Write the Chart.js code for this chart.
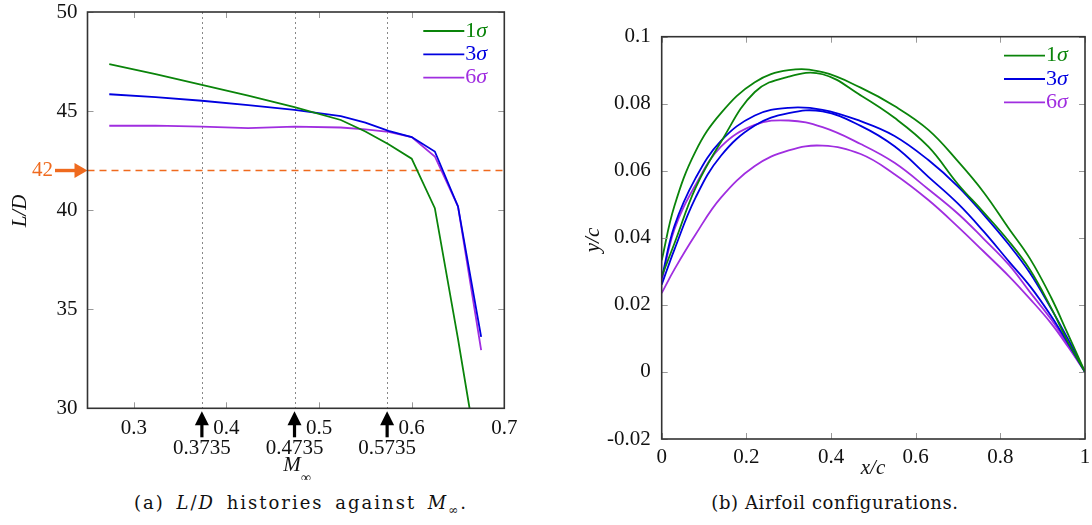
<!DOCTYPE html>
<html>
<head>
<meta charset="utf-8">
<script src="https://cdn.jsdelivr.net/npm/chart.js@4.4.1/dist/chart.umd.min.js"></script>
<style>
  body { margin: 0; width: 1092px; height: 525px; background: #fff; position: relative; overflow: hidden; font-family: 'Liberation Serif', serif; color: #111; }
  canvas { position: absolute; top: 0; }
  #ldChart { left: 0; }
  #foilChart { left: 550px; }
  .cap { position: absolute; top: 492px; font-family: 'DejaVu Serif', serif; font-size: 18px; letter-spacing: 0.6px; text-align: center; width: 480px; }
  .cap sub { font-size: 12px; }
  #capA { left: 61px; letter-spacing: 2px; word-spacing: 4px; }
  #capB { left: 595px; }
</style>
</head>
<body>
<canvas id="ldChart" width="540" height="480"></canvas>
<canvas id="foilChart" width="542" height="480"></canvas>
<div class="cap" id="capA">(a) <i>L</i>/<i>D</i> histories against <i>M</i><sub>∞</sub>.</div>
<div class="cap" id="capB">(b) Airfoil configurations.</div>
<script>
// L/D gegen Machzahl
const mach = [0.2735, 0.3235, 0.3735, 0.4235, 0.4735, 0.5235, 0.55, 0.575, 0.6, 0.625, 0.65, 0.675];
const ld1 = [47.37, 46.86, 46.32, 45.78, 45.2, 44.55, 43.97, 43.33, 42.6, 40.1, 33.5, 26.5];
const ld3 = [45.85, 45.7, 45.52, 45.3, 45.06, 44.75, 44.42, 44.0, 43.69, 42.96, 40.19, 33.6];
const ld6 = [44.26, 44.27, 44.22, 44.14, 44.22, 44.17, 44.08, 43.95, 43.69, 42.71, 40.19, 32.94];
const machTicks = [0.3, 0.4, 0.5, 0.6, 0.7];
const ldTicks = [30, 35, 40, 45, 50];
const markMach = [0.3735, 0.4735, 0.5735];
const targetLD = 42;

// Profilformen
const xc = [0, 0.03, 0.08, 0.14, 0.22, 0.3, 0.38, 0.47, 0.55, 0.63, 0.7, 0.76, 0.82, 0.87, 0.92, 0.96, 1];
const yc1a = [0.0333, 0.0495, 0.0658, 0.0772, 0.0864, 0.0900, 0.0894, 0.0848, 0.0793, 0.0722, 0.0628, 0.0537, 0.0428, 0.0338, 0.0222, 0.0112, 0];
const yc1b = [0.0285, 0.0383, 0.0549, 0.0686, 0.0835, 0.0881, 0.0888, 0.0825, 0.0758, 0.0672, 0.0560, 0.0477, 0.0390, 0.0305, 0.0191, 0.0089, 0];
const yc3a = [0.0280, 0.0435, 0.0578, 0.0689, 0.0765, 0.0788, 0.0782, 0.0748, 0.0704, 0.0632, 0.0553, 0.0470, 0.0380, 0.0295, 0.0189, 0.0098, 0];
const yc3b = [0.0260, 0.0365, 0.0520, 0.0645, 0.0735, 0.0772, 0.0777, 0.0734, 0.0673, 0.0582, 0.0502, 0.0420, 0.0330, 0.0256, 0.0167, 0.0085, 0];
const yc6a = [0.0270, 0.0425, 0.0558, 0.0672, 0.0737, 0.0750, 0.0730, 0.0680, 0.0624, 0.0545, 0.0472, 0.0398, 0.0320, 0.0238, 0.0157, 0.0080, 0];
const yc6b = [0.0235, 0.0306, 0.0410, 0.0520, 0.0614, 0.0661, 0.0675, 0.0650, 0.0590, 0.0513, 0.0433, 0.0360, 0.0286, 0.0218, 0.0145, 0.0075, 0];
const xcTicks = [0, 0.2, 0.4, 0.6, 0.8, 1];
const ycTicks = [-0.02, 0, 0.02, 0.04, 0.06, 0.08, 0.1];

const sigmaNames = ['1', '3', '6'];
const sigmaColors = ['#0a840a', '#0000e0', '#a02ee0'];
const orange = '#ef6a1e';
const serif = "'Liberation Serif', serif";

const pts = (xs, ys) => xs.map((x, i) => ({ x: x, y: ys[i] }));

// Rahmen und Innen-Ticks auf allen vier Seiten
const framePlugin = {
    id: 'frame',
    afterDraw(chart) {
        const { ctx, chartArea: a, scales } = chart;
        ctx.save();
        ctx.strokeStyle = '#999';
        ctx.lineWidth = 1;
        ctx.beginPath();
        scales.x.ticks.forEach(t => {
            const px = Math.round(scales.x.getPixelForValue(t.value)) + 0.5;
            ctx.moveTo(px, a.bottom); ctx.lineTo(px, a.bottom - 6);
            ctx.moveTo(px, a.top); ctx.lineTo(px, a.top + 6);
        });
        scales.y.ticks.forEach(t => {
            const py = Math.round(scales.y.getPixelForValue(t.value)) + 0.5;
            ctx.moveTo(a.left, py); ctx.lineTo(a.left + 6, py);
            ctx.moveTo(a.right, py); ctx.lineTo(a.right - 6, py);
        });
        ctx.stroke();
        ctx.strokeStyle = '#333';
        ctx.lineWidth = 1.6;
        ctx.strokeRect(a.left, a.top, a.width, a.height);
        ctx.restore();
    }
};

// Legende oben rechts im Plotbereich
const legendPlugin = {
    id: 'sigmaLegend',
    afterDraw(chart) {
        const { ctx, chartArea: a } = chart;
        ctx.save();
        sigmaNames.forEach((n, i) => {
            const y = a.top + 19 + i * 23.3;
            ctx.strokeStyle = sigmaColors[i];
            ctx.lineWidth = 1.8;
            ctx.beginPath();
            ctx.moveTo(a.right - 81, y);
            ctx.lineTo(a.right - 40, y);
            ctx.stroke();
            ctx.fillStyle = sigmaColors[i];
            ctx.textBaseline = 'middle';
            ctx.textAlign = 'left';
            ctx.font = '22px ' + serif;
            ctx.fillText(n, a.right - 39, y);
            const w = ctx.measureText(n).width;
            ctx.font = 'italic 22px ' + serif;
            ctx.fillText('σ', a.right - 39 + w, y);
        });
        ctx.restore();
    }
};

function arrowUp(ctx, x, tipY, baseY) {
    ctx.beginPath();
    ctx.moveTo(x, tipY);
    ctx.lineTo(x - 7, tipY + 14);
    ctx.lineTo(x + 7, tipY + 14);
    ctx.closePath();
    ctx.fill();
    ctx.fillRect(x - 1.6, tipY + 12, 3.2, baseY - tipY - 12);
}

const ldMarks = {
    id: 'ldMarks',
    beforeDatasetsDraw(chart) {
        const { ctx, chartArea: a, scales: { x, y } } = chart;
        ctx.save();
        ctx.strokeStyle = '#888';
        ctx.lineWidth = 1;
        ctx.setLineDash([2, 3]);
        markMach.forEach(m => {
            const px = Math.round(x.getPixelForValue(m)) + 0.5;
            ctx.beginPath();
            ctx.moveTo(px, a.top);
            ctx.lineTo(px, a.bottom);
            ctx.stroke();
        });
        const py = y.getPixelForValue(targetLD);
        ctx.strokeStyle = orange;
        ctx.lineWidth = 1.6;
        ctx.setLineDash([7, 5]);
        ctx.beginPath();
        ctx.moveTo(a.left, py);
        ctx.lineTo(a.right, py);
        ctx.stroke();
        ctx.restore();
    },
    afterDraw(chart) {
        const { ctx, chartArea: a, scales: { x, y } } = chart;
        ctx.save();
        // Pfeil bei 42
        const py = y.getPixelForValue(targetLD);
        ctx.fillStyle = orange;
        ctx.fillRect(55, py - 1.7, a.left - 66, 3.4);
        ctx.beginPath();
        ctx.moveTo(a.left, py);
        ctx.lineTo(a.left - 13, py - 7.5);
        ctx.lineTo(a.left - 13, py + 7.5);
        ctx.closePath();
        ctx.fill();
        ctx.font = '21px ' + serif;
        ctx.textAlign = 'right';
        ctx.textBaseline = 'middle';
        ctx.fillText(String(targetLD), 53, py);

        // Pfeile unter der Achse
        ctx.fillStyle = '#000';
        ctx.textAlign = 'center';
        markMach.forEach(m => {
            const px = x.getPixelForValue(m);
            arrowUp(ctx, px, a.bottom + 3, a.bottom + 29);
            ctx.fillStyle = '#111';
            ctx.fillText(String(m), px, a.bottom + 40);
            ctx.fillStyle = '#000';
        });

        // Achsentitel
        ctx.fillStyle = '#111';
        ctx.font = 'italic 21px ' + serif;
        ctx.fillText('M', 292, 465);
        ctx.font = '14px ' + serif;
        ctx.fillText('∞', 306, 478);
        ctx.save();
        ctx.translate(20, 211);
        ctx.rotate(-Math.PI / 2);
        ctx.font = 'italic 21px ' + serif;
        ctx.fillText('L/D', 0, 0);
        ctx.restore();
        ctx.restore();
    }
};

const foilTitles = {
    id: 'foilTitles',
    afterDraw(chart) {
        const { ctx } = chart;
        ctx.save();
        ctx.fillStyle = '#111';
        ctx.font = 'italic 21px ' + serif;
        ctx.textAlign = 'center';
        ctx.textBaseline = 'middle';
        ctx.fillText('x/c', 323, 468);
        ctx.translate(43, 240);
        ctx.rotate(-Math.PI / 2);
        ctx.fillText('y/c', 0, 0);
        ctx.restore();
    }
};

const tickFont = { family: serif, size: 21 };

// Skalen ohne Extra-Padding, damit der Plotbereich exakt sitzt
function noPad(s) { s.paddingTop = 0; s.paddingBottom = 0; s.paddingLeft = 0; s.paddingRight = 0; }

new Chart(document.getElementById('ldChart'), {
    type: 'line',
    data: {
        datasets: [ld1, ld3, ld6].map((d, i) => ({
            label: sigmaNames[i] + 'σ',
            data: pts(mach, d),
            borderColor: sigmaColors[i],
            borderWidth: 1.8,
            pointRadius: 0,
            tension: 0
        }))
    },
    options: {
        responsive: false,
        animation: false,
        layout: { padding: { top: 12, right: 35.7, left: 0, bottom: 0 } },
        plugins: { legend: { display: false }, tooltip: { enabled: false } },
        scales: {
            x: {
                type: 'linear', min: 0.25, max: 0.7,
                afterBuildTicks: s => { s.ticks = machTicks.map(v => ({ value: v })); },
                afterFit: s => { s.height = 71.7; noPad(s); },
                ticks: { font: tickFont, color: '#111', padding: 8, maxRotation: 0, callback: v => String(v) },
                grid: { display: false, drawTicks: false },
                border: { display: false }
            },
            y: {
                min: 30, max: 50,
                afterBuildTicks: s => { s.ticks = ldTicks.map(v => ({ value: v })); },
                afterFit: s => { s.width = 87.5; noPad(s); },
                ticks: { font: tickFont, color: '#111', padding: 10, callback: v => String(v) },
                grid: { display: false, drawTicks: false },
                border: { display: false }
            }
        }
    },
    plugins: [ldMarks, framePlugin, legendPlugin]
});

const foilSeries = [yc1a, yc1b, yc3a, yc3b, yc6a, yc6b];

new Chart(document.getElementById('foilChart'), {
    type: 'line',
    data: {
        datasets: foilSeries.map((d, i) => ({
            label: sigmaNames[Math.floor(i / 2)] + 'σ',
            data: pts(xc, d),
            borderColor: sigmaColors[Math.floor(i / 2)],
            borderWidth: 1.8,
            pointRadius: 0,
            tension: 0.4
        }))
    },
    options: {
        responsive: false,
        animation: false,
        layout: { padding: { top: 36.7, right: 7, left: 0, bottom: 0 } },
        plugins: { legend: { display: false }, tooltip: { enabled: false } },
        scales: {
            x: {
                type: 'linear', min: 0, max: 1,
                afterBuildTicks: s => { s.ticks = xcTicks.map(v => ({ value: v })); },
                afterFit: s => { s.height = 41; noPad(s); },
                ticks: { font: tickFont, color: '#111', padding: 6, maxRotation: 0, callback: v => String(v) },
                grid: { display: false, drawTicks: false },
                border: { display: false }
            },
            y: {
                min: -0.02, max: 0.1,
                afterBuildTicks: s => { s.ticks = ycTicks.map(v => ({ value: v })); },
                afterFit: s => { s.width = 111.7; noPad(s); },
                ticks: { font: tickFont, color: '#111', padding: 11, callback: v => String(v) },
                grid: { display: false, drawTicks: false },
                border: { display: false }
            }
        }
    },
    plugins: [framePlugin, legendPlugin, foilTitles]
});
</script>
</body>
</html>
